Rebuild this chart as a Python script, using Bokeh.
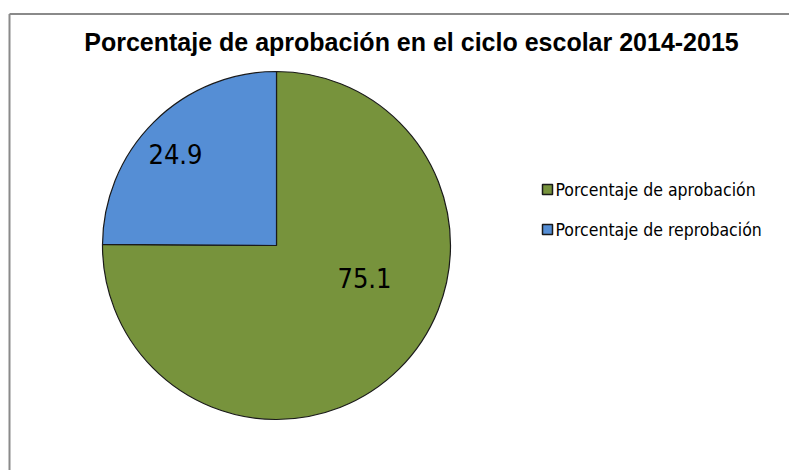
import math
from bokeh.plotting import figure
from bokeh.models import Range1d, ColumnDataSource
from bokeh.core.properties import value
from bokeh.embed import file_html
from bokeh.resources import INLINE

# ---- data ----
title_text = "Porcentaje de aprobación en el ciclo escolar 2014-2015"
categories = ["Porcentaje de aprobación", "Porcentaje de reprobación"]
values = [75.1, 24.9]
colors = ["#77933C", "#558ED5"]

# ---- layout (page pixels; y measured downward from page top) ----
W, H = 789, 470
def Y(py):
    return H - py

cx, cy, r = 276, 245, 174
NARROW = "'Liberation Sans Narrow', 'Arial Narrow', 'DejaVu Sans Condensed', sans-serif"

p = figure(width=W, height=H, output_backend="svg", toolbar_location=None,
           x_range=Range1d(0, W), y_range=Range1d(0, H),
           min_border=0, outline_line_color=None)
p.axis.visible = False
p.grid.visible = False
p.background_fill_color = "white"
p.border_fill_color = "white"

# chart border (only top/left visible in crop)
p.segment(x0=[9, 9], y0=[Y(13.5), Y(13.5)], x1=[900, 9], y1=[Y(13.5), Y(600)],
          line_color="#8a8a8a", line_width=2)

# pie slices: start at 12 o'clock, clockwise
total = sum(values)
starts, ends = [], []
cum = 0.0
for v in values:
    starts.append(math.pi / 2 - 2 * math.pi * cum / total)
    cum += v
    ends.append(math.pi / 2 - 2 * math.pi * cum / total)

src = ColumnDataSource(dict(start=starts, end=ends, color=colors, cat=categories))
p.wedge(x=cx, y=Y(cy), radius=r, start_angle="start", end_angle="end",
        direction="clock", fill_color="color", line_color="#1a1a1a",
        line_width=1.2, source=src)

# data labels (positions in page pixels)
label_pos = [(364, 277), (175, 153)]
p.text(x=[pt[0] for pt in label_pos], y=[Y(pt[1]) for pt in label_pos],
       text=[f"{v:.1f}" for v in values], text_align="center", text_baseline="middle",
       text_font=value(NARROW), text_font_size="27px", text_color="black")

# title
p.text(x=[411], y=[Y(41)], text=[title_text], text_align="center", text_baseline="middle",
       text_font=value("'Liberation Sans', Arial, sans-serif"), text_font_style="bold",
       text_font_size="25px", text_color="black")

# legend
leg_y = [Y(189), Y(229)]
p.rect(x=[547, 547], y=leg_y, width=10, height=10, width_units="screen", height_units="screen",
       fill_color=colors, line_color="#1a1a1a", line_width=1.5)
p.text(x=[555, 555], y=leg_y, text=categories, text_align="left", text_baseline="middle",
       text_font=value(NARROW), text_font_size="17.5px", text_color="black")

open("out.html", "w").write(file_html(p, INLINE))
